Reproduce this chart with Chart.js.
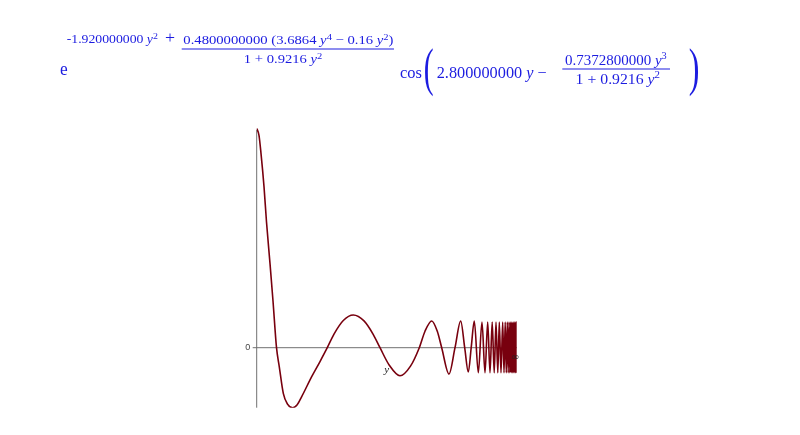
<!DOCTYPE html>
<html>
<head>
<meta charset="utf-8">
<script src="https://cdn.jsdelivr.net/npm/chart.js@4.4.1/dist/chart.umd.min.js"></script>
<style>
html,body{margin:0;padding:0;background:#fff;}
#c{display:block;}
</style>
</head>
<body>
<canvas id="c" width="800" height="435"></canvas>
<script>
// compressed horizontal coordinate (0 = y origin, 1 = infinity)
const tValues = [
  0, 0.0088, 0.0165, 0.0281, 0.0377, 0.0512, 0.0627, 0.0762, 0.0869, 0.1023,
  0.1185, 0.1385, 0.155, 0.1731, 0.2115, 0.2435, 0.2715, 0.2973, 0.3331, 0.3715,
  0.4127, 0.4485, 0.4742, 0.51, 0.5511, 0.5915, 0.6254, 0.6473, 0.6731,
  0.6946, 0.7115, 0.7396, 0.7627, 0.7846, 0.8, 0.8138, 0.825, 0.8369, 0.8523,
  0.8665, 0.8781, 0.8885, 0.8973, 0.9058, 0.9135, 0.9204, 0.9273, 0.9331, 0.9396,
  0.9462, 0.9512, 0.9558, 0.96, 0.9638, 0.9673, 0.9704, 0.9735, 0.9762, 0.9788,
  0.9812, 0.9835, 0.9858, 0.9877, 0.9896, 0.9915, 0.9931, 0.9946, 0.9962, 0.9973,
  0.9985, 0.9996
];
// curve values
const fValues = [
  1, 0.968, 0.886, 0.734, 0.573, 0.383, 0.213, 0, -0.087, -0.208,
  -0.257, -0.2735, -0.261, -0.223, -0.132, -0.063, 0, 0.062, 0.124, 0.149,
  0.122, 0.06, 0, -0.08, -0.128, -0.084, 0, 0.075, 0.122,
  0.075, 0, -0.12, 0, 0.122, 0, -0.111, 0, 0.122, -0.114,
  0.117, -0.114, 0.117, -0.114, 0.117, -0.114, 0.117, -0.114, 0.117, -0.114,
  0.117, -0.114, 0.117, -0.114, 0.117, -0.114, 0.117, -0.114, 0.117, -0.114,
  0.117, -0.114, 0.117, -0.114, 0.117, -0.114, 0.117, -0.114, 0.117, -0.114,
  0.117, -0.114
];
const yTickLabels = ['0'];
const xEndLabels = ['\u221E'];
const xAxisTitle = 'y';
const yRange = [-0.2735, 1];

const SERIF = '"Liberation Serif","Times New Roman",serif';
const BLUE = '#1c1ce0';

function fitRuns(ctx, runs, x0, x1, base) {
  const ms = runs.map(r => { ctx.font = r[1]; return ctx.measureText(r[0]); });
  const pos = []; let adv = 0;
  ms.forEach(m => { pos.push(adv); adv += m.width; });
  const inkL = -ms[0].actualBoundingBoxLeft;
  const last = runs.length - 1;
  const inkR = pos[last] + ms[last].actualBoundingBoxRight;
  const sx = (x1 - x0) / (inkR - inkL);
  ctx.save();
  ctx.translate(x0 - inkL * sx, base);
  ctx.scale(sx, 1);
  runs.forEach((r, i) => { ctx.font = r[1]; ctx.fillText(r[0], pos[i], r[2] || 0); });
  ctx.restore();
}
function fitGlyph(ctx, ch, font, x0, x1, y0, y1) {
  ctx.font = font;
  const m = ctx.measureText(ch);
  const w = m.actualBoundingBoxLeft + m.actualBoundingBoxRight;
  const h = m.actualBoundingBoxAscent + m.actualBoundingBoxDescent;
  const sx = (x1 - x0) / w, sy = (y1 - y0) / h;
  ctx.save();
  ctx.translate(x0 + m.actualBoundingBoxLeft * sx, y0 + m.actualBoundingBoxAscent * sy);
  ctx.scale(sx, sy);
  ctx.fillText(ch, 0, 0);
  ctx.restore();
}

const f = (s, it) => (it ? 'italic ' : '') + s + 'px ' + SERIF;

const decor = {
  id: 'decor',
  beforeDatasetsDraw(chart) {
    const ctx = chart.ctx, xs = chart.scales.x, ys = chart.scales.y;
    const x0 = xs.getPixelForValue(0), y0 = ys.getPixelForValue(0);
    ctx.save();
    ctx.strokeStyle = '#707070';
    ctx.lineWidth = 1;
    ctx.beginPath();
    ctx.moveTo(x0, ys.getPixelForValue(yRange[1]) + 1.5);
    ctx.lineTo(x0, ys.getPixelForValue(yRange[0]));
    ctx.moveTo(x0 - 4, y0);
    ctx.lineTo(xs.getPixelForValue(1), y0);
    ctx.stroke();
    ctx.restore();
  },
  afterDatasetsDraw(chart) {
    const ctx = chart.ctx, xs = chart.scales.x, ys = chart.scales.y;
    const x0 = xs.getPixelForValue(0), y0 = ys.getPixelForValue(0);
    ctx.save();
    ctx.fillStyle = '#444';
    ctx.font = '9px "Liberation Sans",Arial,sans-serif';
    ctx.textAlign = 'right'; ctx.textBaseline = 'middle';
    ctx.fillText(yTickLabels[0], x0 - 6.5, y0);
    ctx.fillStyle = '#222';
    ctx.textAlign = 'center';
    ctx.font = f(11, true);
    ctx.fillText(xAxisTitle, (xs.getPixelForValue(0.5) + x0) / 2 + 65, y0 + 22);
    ctx.font = '10px "DejaVu Sans",sans-serif';
    ctx.fillText(xEndLabels[0], xs.getPixelForValue(1) - 1.5, y0 + 9.5);
    ctx.restore();

    // formula
    ctx.save();
    ctx.fillStyle = BLUE;
    ctx.textBaseline = 'alphabetic';
    ctx.textAlign = 'left';
    fitRuns(ctx, [['e', f(19)]], 60, 67.3, 74.7);
    fitRuns(ctx, [['-1.920000000 ', f(12.5)], ['y', f(12.5, true)], ['2', f(9), -4]], 66.7, 157.3, 43.3);
    fitRuns(ctx, [['+', f(16)]], 165, 175, 43.3);
    fitRuns(ctx, [['0.4800000000 (3.6864 ', f(12.5)], ['y', f(12.5, true)], ['4', f(9), -4],
                  [' \u2212 0.16 ', f(12.5)], ['y', f(12.5, true)], ['2', f(9), -4], [')', f(12.5)]],
            183.3, 393.3, 43.8);
    ctx.fillRect(181.7, 48.5, 394 - 181.7, 1);
    fitRuns(ctx, [['1 + 0.9216 ', f(12.5)], ['y', f(12.5, true)], ['2', f(9), -4]], 245, 321.7, 62.7);

    fitRuns(ctx, [['cos', f(16)]], 400, 421.7, 77.7);
    fitGlyph(ctx, '(', f(50), 425, 433.3, 47.5, 96.7);
    fitRuns(ctx, [['2.800000000 ', f(16)], ['y', f(16, true)], [' \u2212', f(16)]], 436.7, 546.7, 78.3);
    fitRuns(ctx, [['0.7372800000 ', f(14.5)], ['y', f(14.5, true)], ['3', f(10), -6]], 565, 666.7, 65);
    ctx.fillRect(562.3, 68.5, 670 - 562.3, 1);
    fitRuns(ctx, [['1 + 0.9216 ', f(14.5)], ['y', f(14.5, true)], ['2', f(10), -6]], 576.7, 660, 84.3);
    fitGlyph(ctx, ')', f(50), 689.3, 698.3, 47.5, 96.7);
    ctx.restore();
  }
};

const points = tValues.map((t, i) => ({ x: t, y: fValues[i] }));

new Chart(document.getElementById('c'), {
  type: 'line',
  data: {
    datasets: [{
      data: points,
      borderColor: '#78000E',
      borderWidth: 1.6,
      pointRadius: 0,
      fill: false,
      cubicInterpolationMode: 'monotone'
    }]
  },
  options: {
    responsive: false,
    animation: false,
    devicePixelRatio: 1,
    layout: { padding: { left: 256.7, right: 283.3, top: 128.3, bottom: 27.3 } },
    plugins: { legend: { display: false }, tooltip: { enabled: false }, title: { display: false } },
    scales: {
      x: { type: 'linear', min: 0, max: 1, display: false },
      y: { type: 'linear', min: yRange[0], max: yRange[1], display: false }
    }
  },
  plugins: [decor]
});
</script>
</body>
</html>
